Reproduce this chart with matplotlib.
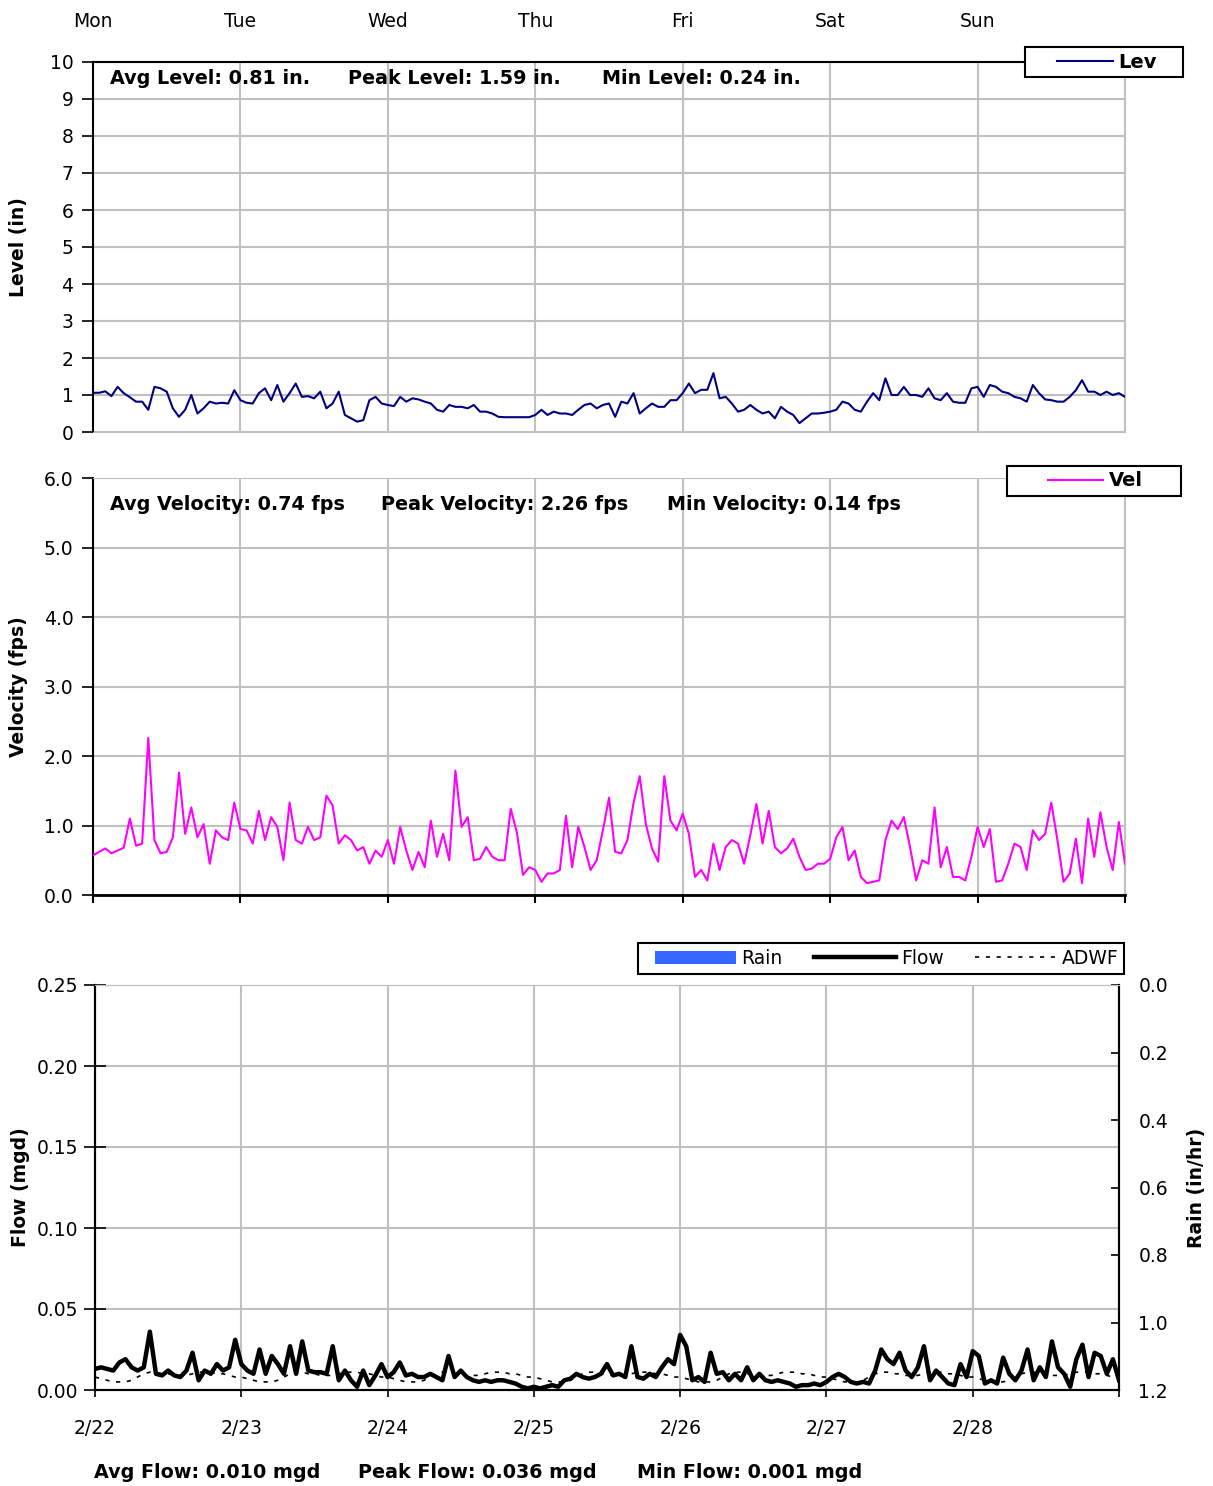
import numpy as np
import matplotlib
matplotlib.use("Agg")
import matplotlib.pyplot as plt
from matplotlib.legend_handler import HandlerLine2D, HandlerPatch

# hourly readings, Mon 2/22 00:00 -> Mon 2/29 00:00
level = [1.06,1.06,1.10,0.97,1.22,1.05,0.94,0.82,0.82,0.60,1.22,1.18,1.09,0.64,0.41,0.60,1.00,0.50,0.64,0.82,0.77,0.79,0.77,1.13,
         0.86,0.79,0.77,1.05,1.18,0.86,1.27,0.82,1.05,1.31,0.95,0.97,0.91,1.09,0.64,0.77,1.09,0.46,0.37,0.28,0.32,0.86,0.95,0.77,
         0.73,0.70,0.95,0.82,0.91,0.88,0.82,0.77,0.60,0.55,0.73,0.68,0.68,0.64,0.73,0.55,0.55,0.50,0.41,0.40,0.40,0.40,0.40,0.40,
         0.46,0.60,0.46,0.55,0.50,0.50,0.46,0.60,0.73,0.77,0.64,0.73,0.77,0.41,0.82,0.77,1.05,0.50,0.64,0.77,0.68,0.68,0.86,0.86,
         1.05,1.31,1.05,1.14,1.14,1.59,0.91,0.95,0.77,0.55,0.60,0.73,0.60,0.50,0.55,0.37,0.68,0.55,0.46,0.24,0.37,0.50,0.50,0.52,
         0.55,0.60,0.82,0.77,0.60,0.55,0.82,1.05,0.86,1.45,1.00,1.00,1.22,1.00,1.00,0.95,1.18,0.91,0.86,1.05,0.82,0.79,0.79,1.18,
         1.22,0.95,1.27,1.22,1.09,1.05,0.95,0.91,0.82,1.27,1.05,0.88,0.86,0.82,0.82,0.95,1.13,1.40,1.09,1.09,1.00,1.09,1.00,1.05,
         0.95]
velocity = [0.57,0.62,0.67,0.60,0.64,0.68,1.10,0.71,0.74,2.26,0.79,0.60,0.62,0.83,1.76,0.88,1.26,0.83,1.02,0.45,0.93,0.83,0.79,1.33,
            0.95,0.93,0.74,1.21,0.79,1.12,0.98,0.50,1.33,0.79,0.74,0.98,0.79,0.83,1.43,1.29,0.74,0.86,0.79,0.64,0.69,0.45,0.64,0.55,
            0.79,0.45,0.98,0.64,0.36,0.62,0.40,1.07,0.55,0.88,0.50,1.79,0.98,1.12,0.50,0.52,0.69,0.55,0.50,0.50,1.24,0.90,0.29,0.40,
            0.36,0.19,0.31,0.31,0.36,1.14,0.40,0.98,0.69,0.36,0.50,0.93,1.40,0.62,0.60,0.79,1.33,1.71,1.02,0.67,0.48,1.71,1.07,0.93,
            1.17,0.88,0.26,0.36,0.21,0.74,0.36,0.69,0.79,0.74,0.45,0.86,1.31,0.74,1.21,0.69,0.60,0.67,0.81,0.55,0.36,0.38,0.45,0.45,
            0.52,0.83,0.98,0.50,0.64,0.26,0.17,0.19,0.21,0.79,1.07,0.95,1.12,0.69,0.21,0.50,0.45,1.26,0.40,0.69,0.26,0.26,0.21,0.55,
            0.98,0.69,0.95,0.19,0.21,0.45,0.74,0.69,0.36,0.93,0.79,0.88,1.33,0.79,0.19,0.31,0.81,0.17,1.10,0.55,1.19,0.69,0.36,1.05,
            0.45]
flow = [0.013,0.014,0.013,0.012,0.017,0.019,0.014,0.012,0.014,0.036,0.010,0.009,0.012,0.009,0.008,0.012,0.023,0.006,0.012,0.010,0.016,0.012,0.014,0.031,
        0.016,0.012,0.010,0.025,0.010,0.021,0.016,0.010,0.027,0.010,0.030,0.012,0.011,0.011,0.010,0.027,0.006,0.012,0.006,0.002,0.012,0.003,0.009,0.016,
        0.008,0.011,0.017,0.009,0.010,0.008,0.008,0.010,0.008,0.006,0.021,0.008,0.012,0.008,0.006,0.005,0.006,0.005,0.006,0.006,0.005,0.004,0.002,0.001,
        0.002,0.001,0.002,0.003,0.002,0.006,0.007,0.010,0.008,0.007,0.008,0.010,0.016,0.009,0.010,0.008,0.027,0.008,0.007,0.010,0.008,0.014,0.019,0.016,
        0.034,0.027,0.006,0.008,0.005,0.023,0.010,0.011,0.006,0.010,0.006,0.014,0.006,0.010,0.006,0.005,0.006,0.005,0.004,0.002,0.003,0.003,0.004,0.003,
        0.005,0.008,0.010,0.008,0.005,0.004,0.005,0.004,0.012,0.025,0.019,0.016,0.023,0.012,0.008,0.014,0.027,0.006,0.012,0.008,0.004,0.003,0.016,0.008,
        0.024,0.021,0.004,0.006,0.004,0.020,0.010,0.006,0.012,0.025,0.006,0.014,0.008,0.030,0.014,0.010,0.002,0.019,0.028,0.008,0.023,0.021,0.010,0.019,
        0.006]
# average dry weather flow, one daily profile repeated each day
adwf_day = [0.008,0.007,0.006,0.005,0.005,0.005,0.006,0.008,0.010,0.011,0.011,0.010,
            0.010,0.009,0.009,0.009,0.010,0.011,0.011,0.011,0.010,0.010,0.009,0.008]
adwf = adwf_day * 7 + adwf_day[:1]
rain = [0.0] * 169

days = ['Mon', 'Tue', 'Wed', 'Thu', 'Fri', 'Sat', 'Sun']
dates = ['2/22', '2/23', '2/24', '2/25', '2/26', '2/27', '2/28']

t = np.arange(len(level)) / 24.0
W, H = 1213, 1486
grid_c = '#c0c0c0'
stat_fs = 13.8

plt.rcParams['font.family'] = 'DejaVu Sans'
fig = plt.figure(figsize=(W/100, H/100), dpi=100)

def px(l, tp, r, b):
    return [l/W, 1-b/H, (r-l)/W, (b-tp)/H]

# ---------- level ----------
ax1 = fig.add_axes(px(93, 62, 1125, 432))
ln_lev, = ax1.plot(t, level, color='#000080', lw=1.5, label='Lev', zorder=3)
ax1.set_xlim(0, 7)
ax1.set_ylim(0, 10)
ax1.set_yticks(range(0, 11))
ax1.set_xticks(range(8))
ax1.set_xticklabels(days + [''])
ax1.tick_params(axis='x', top=True, labeltop=True, bottom=False, labelbottom=False, length=0, pad=22, labelsize=13.5)
ax1.tick_params(axis='y', direction='out', length=8, width=1.2, pad=6, labelsize=13.5)
ax1.grid(True, color=grid_c, lw=1.5)
ax1.set_axisbelow(True)
for s in ['bottom', 'right']:
    ax1.spines[s].set_color(grid_c)
ax1.spines['left'].set_linewidth(1.5)
ax1.spines['top'].set_linewidth(1.5)
ax1.set_ylabel('Level (in)', fontsize=13.5, fontweight='bold')
ax1.yaxis.set_label_coords(-0.063, 0.5)
lg = ax1.legend(loc='center', bbox_to_anchor=(1025/W, 1-79/H, 158/W, 34/H), bbox_transform=fig.transFigure,
                mode='expand', borderaxespad=0, borderpad=0.3, handlelength=4.2, handletextpad=0.3,
                prop={'weight': 'bold', 'size': 14}, fancybox=False, framealpha=1,
                handler_map={ln_lev: HandlerLine2D(xpad=1.35)})
lg.get_frame().set_edgecolor('black')
lg.get_frame().set_linewidth(1.5)

fig.text(110/W, 1-79/H, 'Avg Level: 0.81 in.', fontsize=stat_fs, fontweight='bold', va='center')
fig.text(348/W, 1-79/H, 'Peak Level: 1.59 in.', fontsize=stat_fs, fontweight='bold', va='center')
fig.text(602/W, 1-79/H, 'Min Level: 0.24 in.', fontsize=stat_fs, fontweight='bold', va='center')

# ---------- velocity ----------
ax2 = fig.add_axes(px(93, 478, 1125, 895))
ln_vel, = ax2.plot(t, velocity, color='#FF00FF', lw=1.5, label='Vel', zorder=3)
ax2.set_xlim(0, 7)
ax2.set_ylim(0, 6)
ax2.set_yticks(np.arange(0, 6.01, 1.0))
ax2.set_yticklabels(['%.1f' % v for v in np.arange(0, 6.01, 1.0)])
ax2.set_xticks(range(8))
ax2.tick_params(axis='x', labelbottom=False, direction='out', length=6, width=1.5)
ax2.tick_params(axis='y', direction='out', length=8, width=1.2, pad=6, labelsize=13.5)
ax2.grid(True, color=grid_c, lw=1.5)
ax2.set_axisbelow(True)
for s in ['top', 'right']:
    ax2.spines[s].set_color(grid_c)
ax2.spines['left'].set_linewidth(1.5)
ax2.spines['bottom'].set_linewidth(2)
ax2.set_ylabel('Velocity (fps)', fontsize=13.5, fontweight='bold')
ax2.yaxis.set_label_coords(-0.063, 0.5)
lg = ax2.legend(loc='center', bbox_to_anchor=(1007/W, 1-499/H, 174/W, 36/H), bbox_transform=fig.transFigure,
                mode='expand', borderaxespad=0, borderpad=0.3, handlelength=4.65, handletextpad=0.3,
                prop={'weight': 'bold', 'size': 14}, fancybox=False, framealpha=1,
                handler_map={ln_vel: HandlerLine2D(xpad=1.8)})
lg.get_frame().set_edgecolor('black')
lg.get_frame().set_linewidth(1.5)

fig.text(110/W, 1-504/H, 'Avg Velocity: 0.74 fps', fontsize=stat_fs, fontweight='bold', va='center')
fig.text(381/W, 1-504/H, 'Peak Velocity: 2.26 fps', fontsize=stat_fs, fontweight='bold', va='center')
fig.text(667/W, 1-504/H, 'Min Velocity: 0.14 fps', fontsize=stat_fs, fontweight='bold', va='center')

# ---------- flow / rain ----------
ax3 = fig.add_axes(px(95, 985, 1119, 1390))
ax4 = ax3.twinx()
bars = ax4.bar(t, rain, width=1/24, color='#3366FF', lw=0, label='Rain', align='edge')
ax4.set_ylim(1.2, 0)
ax4.set_yticks(np.arange(0, 1.21, 0.2))
ax4.set_yticklabels(['%.1f' % v for v in np.arange(0, 1.21, 0.2)])
ax4.tick_params(axis='y', direction='in', length=6, width=1.2, pad=14, labelsize=13.5)
ax4.set_ylabel('Rain (in/hr)', fontsize=13.5, fontweight='bold')
ax4.yaxis.set_label_coords(1.066, 0.5)

ln_flow, = ax3.plot(t, flow, color='black', lw=3.2, label='Flow', zorder=3)
ln_adwf, = ax3.plot(t, adwf, color='black', lw=1.2, ls=(0, (2.5, 4)), label='ADWF', zorder=2)
ax3.set_zorder(ax4.get_zorder() + 1)
ax3.patch.set_visible(False)
ax3.set_xlim(0, 7)
ax3.set_ylim(0, 0.25)
ax3.set_yticks(np.arange(0, 0.251, 0.05))
ax3.set_yticklabels(['%.2f' % v for v in np.arange(0, 0.251, 0.05)])
ax3.set_xticks(range(8))
ax3.set_xticklabels(dates + [''])
ax3.tick_params(axis='x', direction='out', length=5, width=1.2, pad=16, labelsize=13.5)
ax3.tick_params(axis='y', direction='inout', length=16, width=1.2, pad=4, labelsize=13.5)
ax3.grid(True, color=grid_c, lw=1.5)
ax3.set_axisbelow(True)
ax3.spines['top'].set_color(grid_c)
ax4.spines['top'].set_color(grid_c)
for a in (ax3, ax4):
    a.spines['left'].set_linewidth(1.5)
    a.spines['right'].set_linewidth(1.5)
    a.spines['bottom'].set_linewidth(1.5)
ax3.set_ylabel('Flow (mgd)', fontsize=13.5, fontweight='bold')
ax3.yaxis.set_label_coords(-0.0635, 0.5)

rain_h = bars.patches[0]
lg = ax3.legend([rain_h, ln_flow, ln_adwf], ['Rain', 'Flow', 'ADWF'], ncol=3,
                loc='center', bbox_to_anchor=(638/W, 1-977/H, 486/W, 37/H), bbox_transform=fig.transFigure,
                mode='expand', borderaxespad=0, borderpad=0.3, handlelength=4.95, handletextpad=0.27,
                fontsize=13.5, fancybox=False, framealpha=1,
                handler_map={rain_h: HandlerPatch(xpad=0.6), ln_flow: HandlerLine2D(xpad=0.6),
                             ln_adwf: HandlerLine2D(xpad=0.6)})
lg.get_frame().set_edgecolor('black')
lg.get_frame().set_linewidth(1.5)

fig.text(94/W, 1-1472/H, 'Avg Flow: 0.010 mgd', fontsize=stat_fs, fontweight='bold', va='center')
fig.text(358/W, 1-1472/H, 'Peak Flow: 0.036 mgd', fontsize=stat_fs, fontweight='bold', va='center')
fig.text(637/W, 1-1472/H, 'Min Flow: 0.001 mgd', fontsize=stat_fs, fontweight='bold', va='center')

fig.savefig('out.png', dpi=100)
